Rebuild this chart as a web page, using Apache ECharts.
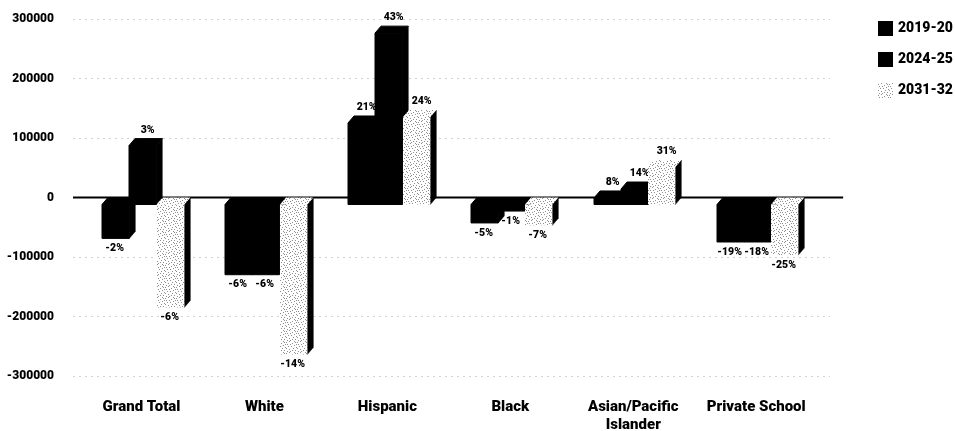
<!DOCTYPE html>
<html><head><meta charset="utf-8">
<style>html,body{margin:0;padding:0;background:#fff}#c{width:955px;height:431px}</style>
<script src="https://cdn.jsdelivr.net/npm/echarts@6/dist/echarts.min.js"></script>
</head><body><div id="c"></div>
<script>
const categories = ['Grand Total','White','Hispanic','Black','Asian/Pacific\nIslander','Private School'];
const seriesNames = ['2019-20','2024-25','2031-32'];
const values2019 = [-57000,-118000,137000,-31000,11000,-63000];
const values2024 = [99000,-118000,288000,-11000,26000,-63000];
const values2031 = [-173000,-252000,147000,-35000,63000,-85000];
const labels2019 = ['-2%','-6%','21%','-5%','8%','-19%'];
const labels2024 = ['3%','-6%','43%','-1%','14%','-18%'];
const labels2031 = ['-6%','-14%','24%','-7%','31%','-25%'];
const allValues = [values2019,values2024,values2031];
const allLabels = [labels2019,labels2024,labels2031];
const FONT = 'Roboto';

const speck = document.createElement('canvas');
speck.width = 11; speck.height = 11;
const sc = speck.getContext('2d');
sc.fillStyle = '#fff'; sc.fillRect(0,0,11,11);
sc.fillStyle = '#8f8f8f';
[[0,1],[3,0],[6,2],[9,1],[1,3],[4,3],[8,4],[2,5],[5,5],[10,6],[0,7],[7,7],[3,8],[9,9],[6,9],[1,10],[4,10],[8,0],[10,3]]
  .forEach(p => sc.fillRect(p[0],p[1],1,1));
const pattern = {image: speck, repeat: 'repeat'};
const fills = ['#000','#000',pattern];

function makeRender(s){
  return function(params, api){
    const i = api.value(0), v = api.value(1);
    const c = api.coord([i, v]), z = api.coord([i, 0]);
    const w = api.size([1,0])[0] * 0.222;
    const dx = 6, dy = 7;
    const x = Math.round(c[0] + (s - 1.5) * w + 1.5);
    const yT = Math.min(c[1], z[1]) + dy, yB = Math.max(c[1], z[1]) + dy;
    const fill = fills[s];
    const black = s < 2;
    const edge = black ? {stroke:'#000', lineWidth:1} : {};
    const lab = allLabels[s][i];
    const pos = v >= 0;
    return {type:'group', children:[
      {type:'polygon', shape:{points:[[x+w,yT],[x+w+dx,yT-dy],[x+w+dx,yB-dy],[x+w,yB]]}, style:{fill:'#000',stroke:'#000',lineWidth:0.5}},
      {type:'polygon', shape:{points:[[x,yT],[x+dx,yT-dy],[x+w+dx,yT-dy],[x+w,yT]]}, style:Object.assign({fill:fill},edge)},
      {type:'rect', shape:{x:x,y:yT,width:w,height:yB-yT}, style:Object.assign({fill:fill},edge)},
      {type:'text', z2:10, style:{text:lab, x: pos ? x+w/2+dx-1 : x+w/2-1, y: pos ? yT-dy-3 : yB+10,
        align:'center', verticalAlign: pos ? 'bottom' : 'middle',
        font:'900 10.5px '+FONT, fill:'#000'}}
    ]};
  };
}

function renderZero(params, api){
  const a = api.coord([api.value(0), 0]), b = api.coord([api.value(1), 0]);
  return {type:'line', shape:{x1:a[0], y1:a[1], x2:b[0], y2:b[1]}, style:{stroke:'#000', lineWidth:2}};
}

const chart = echarts.init(document.getElementById('c'), null, {renderer:'canvas'});
chart.setOption({
  animation:false,
  backgroundColor:'#fff',
  grid:{left:73, top:19, width:757, height:357, outerBoundsMode:'none'},
  legend:{orient:'vertical', left:873, top:16, itemWidth:15, itemHeight:15, itemGap:16,
    selectedMode:false, icon:'rect',
    textStyle:{fontFamily:FONT, fontWeight:900, fontSize:14, color:'#000'},
    data:seriesNames},
  xAxis:{type:'value', min:-0.557, max:5.6,
    axisLine:{show:false}, axisTick:{show:false}, splitLine:{show:false},
    axisLabel:{customValues:categories.map((_,i)=>i), formatter:v=>categories[v],
      fontFamily:FONT, fontWeight:900, fontSize:15, color:'#000', margin:22, lineHeight:18, verticalAlign:'top', hideOverlap:false}},
  yAxis:{type:'value', min:-300000, max:300000, interval:100000,
    axisLine:{show:false}, axisTick:{show:false},
    splitLine:{show:true, lineStyle:{color:'#d2d2d2', type:[2,4], width:1}},
    axisLabel:{fontFamily:FONT, fontWeight:900, fontSize:12, color:'#000', margin:19, formatter:v=>String(v)}},
  series:[
    {type:'custom', name:'zero', silent:true, z:1, clip:false, renderItem:renderZero,
      encode:{x:0}, data:[[-0.557,5.707]]},
    ...seriesNames.map((n,s)=>({
      type:'custom', name:n, renderItem:makeRender(s), clip:false, z:2+s,
      itemStyle:{color:fills[s]},
      encode:{x:0,y:1},
      data:allValues[s].map((v,i)=>[i,v])
    }))
  ]
});
</script></body></html>
